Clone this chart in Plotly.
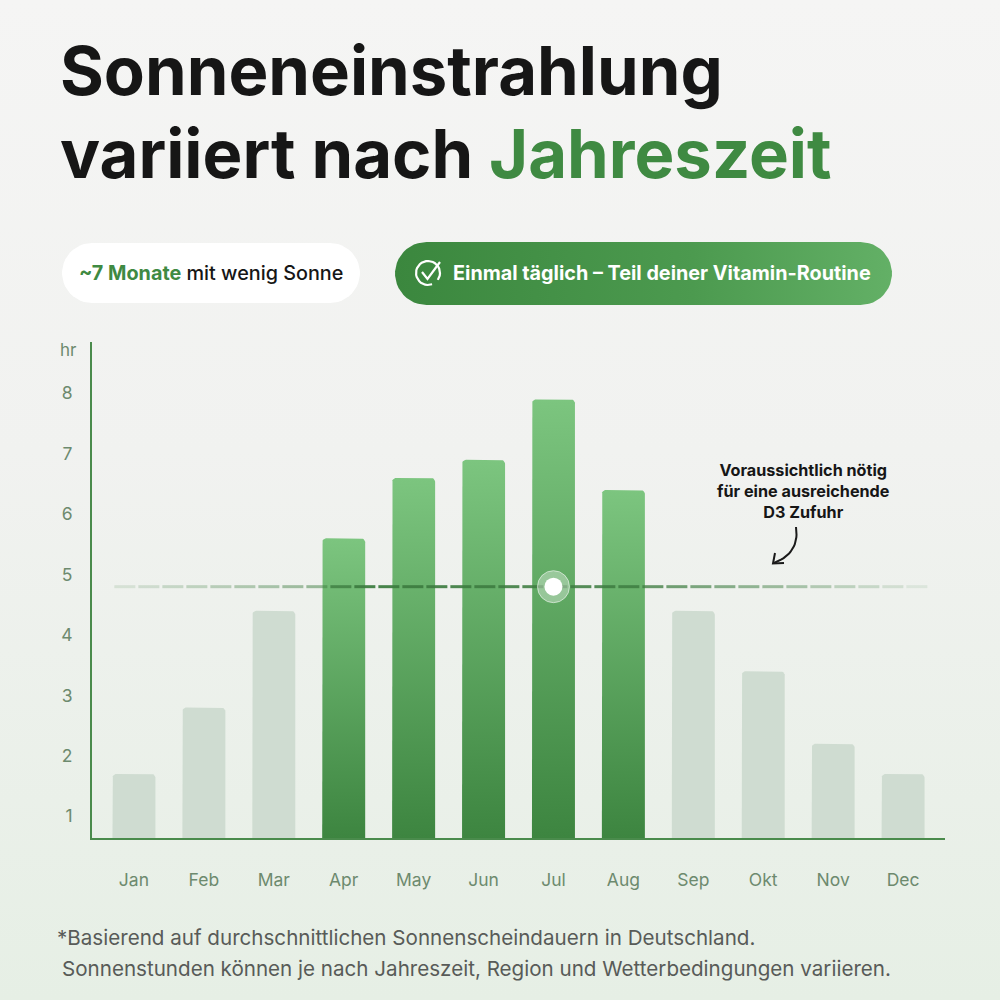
import numpy as np
import plotly.graph_objects as go

MONTHS = ['Jan', 'Feb', 'Mar', 'Apr', 'May', 'Jun', 'Jul', 'Aug', 'Sep', 'Okt', 'Nov', 'Dec']
SUN_HOURS = [1.7, 2.8, 4.4, 5.6, 6.6, 6.9, 7.9, 6.4, 4.4, 3.4, 2.2, 1.7]
HIGH_SUN = [False, False, False, True, True, True, True, True, False, False, False, False]
Y_TICKS = [1, 2, 3, 4, 5, 6, 7, 8]
D3_THRESHOLD = 4.8
MARKER_MONTH = 'Jul'

FONT = 'Inter, Roboto, Arial, sans-serif'
COLOR_TEXT = '#161616'
COLOR_GREEN = '#3F8A42'
COLOR_AXIS = '#4A8B4C'
COLOR_TICK = '#6D8A6E'
COLOR_LOW_BAR = '#CFDCD1'
COLOR_DASH = '61, 124, 64'

Y_MIN, Y_MAX = 0.64, 8.85
X_MIN, X_MAX = -0.6, 11.6
BAR_WIDTH = 0.615
CORNER_PX = 4


def px2paper(y_px):
    return 1 - y_px / 1000


def rounded_top_bar(xc, w, base, top, rx, ry, n=8):
    left, right = xc - w / 2, xc + w / 2
    a1 = np.linspace(np.pi, np.pi / 2, n)
    a2 = np.linspace(np.pi / 2, 0, n)
    xs = [left] + list(left + rx + rx * np.cos(a1)) + list(right - rx + rx * np.cos(a2)) + [right, left]
    ys = [base] + list(top - ry + ry * np.sin(a1)) + list(top - ry + ry * np.sin(a2)) + [base, base]
    return xs, ys


def pill(x0, x1, y0, y1, n=24):
    # pixel coords, y pointing down
    r = (y1 - y0) / 2
    cy = (y0 + y1) / 2
    a_r = np.linspace(-np.pi / 2, np.pi / 2, n)
    a_l = np.linspace(np.pi / 2, 3 * np.pi / 2, n)
    xs = list(x1 - r + r * np.cos(a_r)) + list(x0 + r + r * np.cos(a_l))
    ys = list(cy + r * np.sin(a_r)) + list(cy + r * np.sin(a_l))
    return xs + [xs[0]], ys + [ys[0]]


fig = go.Figure()

# ---- background layer (pixel coordinates on hidden axes) ----
fig.add_trace(go.Scatter(
    x=[0, 1000, 1000, 0, 0], y=[0, 0, 1000, 1000, 0],
    mode='lines', line_width=0, fill='toself',
    fillgradient=dict(type='vertical',
                      colorscale=[[0, '#E6EFE5'], [0.55, '#F1F2F0'], [1, '#F5F5F4']]),
    hoverinfo='skip', showlegend=False, xaxis='x', yaxis='y'))

px_, py_ = pill(62, 360, 243, 303)
fig.add_trace(go.Scatter(x=px_, y=py_, mode='lines', line_width=0, fill='toself',
                         fillcolor='#FFFFFF', hoverinfo='skip', showlegend=False,
                         xaxis='x', yaxis='y'))

px_, py_ = pill(395, 892, 242, 305)
fig.add_trace(go.Scatter(x=px_, y=py_, mode='lines', line_width=0, fill='toself',
                         fillgradient=dict(type='horizontal',
                                           colorscale=[[0, '#3B873E'], [0.6, '#4C9A4F'], [1, '#63B066']]),
                         hoverinfo='skip', showlegend=False, xaxis='x', yaxis='y'))

# check icon
ang = np.linspace(np.radians(-35), np.radians(290), 30)
fig.add_trace(go.Scatter(x=428 + 12 * np.cos(ang), y=273 - 12 * np.sin(ang), mode='lines',
                         line=dict(color='white', width=2.2), hoverinfo='skip', showlegend=False,
                         xaxis='x', yaxis='y'))
fig.add_trace(go.Scatter(x=[422, 427.5, 440], y=[272, 279, 262], mode='lines',
                         line=dict(color='white', width=2.2), hoverinfo='skip', showlegend=False,
                         xaxis='x', yaxis='y'))

# curved arrow for annotation
t = np.linspace(0, 1, 20)
p0, p1, p2 = np.array([796, 527]), np.array([800, 553]), np.array([774, 563])
curve = (1 - t)[:, None] ** 2 * p0 + 2 * ((1 - t) * t)[:, None] * p1 + (t ** 2)[:, None] * p2
fig.add_trace(go.Scatter(x=curve[:, 0], y=curve[:, 1], mode='lines',
                         line=dict(color='#1A1A1A', width=2), hoverinfo='skip', showlegend=False,
                         xaxis='x', yaxis='y'))
fig.add_trace(go.Scatter(x=[775, 773, 784], y=[553, 563.5, 563], mode='lines',
                         line=dict(color='#1A1A1A', width=2), hoverinfo='skip', showlegend=False,
                         xaxis='x', yaxis='y'))

# ---- bars ----
x_idx = list(range(len(MONTHS)))
rx = CORNER_PX / (853 / (X_MAX - X_MIN))
ry = CORNER_PX / (496 / (Y_MAX - Y_MIN))
for i, (val, high) in enumerate(zip(SUN_HOURS, HIGH_SUN)):
    bx, by = rounded_top_bar(x_idx[i], BAR_WIDTH, Y_MIN, val, rx, ry)
    if high:
        fig.add_trace(go.Scatter(
            x=bx, y=by, mode='lines', line_width=0, fill='toself',
            fillgradient=dict(type='vertical', colorscale=[[0, '#3D8540'], [1, '#7CC57F']]),
            name=MONTHS[i], hovertemplate=f'{MONTHS[i]}: {val} hr<extra></extra>',
            showlegend=False, xaxis='x2', yaxis='y2'))
    else:
        fig.add_trace(go.Scatter(
            x=bx, y=by, mode='lines', line_width=0, fill='toself', fillcolor=COLOR_LOW_BAR,
            name=MONTHS[i], hovertemplate=f'{MONTHS[i]}: {val} hr<extra></extra>',
            showlegend=False, xaxis='x2', yaxis='y2'))

# ---- dashed threshold line, fading towards the ends ----
dash_x = np.arange(-0.13, 11.47, 24 / (853 / (X_MAX - X_MIN)))
dash_alpha = np.interp(dash_x, [-0.13, 2.7, 3.1, 7.0, 11.46], [0.14, 0.5, 0.95, 0.85, 0.05])
fig.add_trace(go.Scatter(
    x=dash_x, y=[D3_THRESHOLD] * len(dash_x), mode='markers',
    marker=dict(symbol='line-ew', size=15,
                line=dict(width=3, color=[f'rgba({COLOR_DASH},{a:.2f})' for a in dash_alpha])),
    hoverinfo='skip', showlegend=False, xaxis='x2', yaxis='y2'))

mx = MONTHS.index(MARKER_MONTH)
fig.add_trace(go.Scatter(
    x=[mx], y=[D3_THRESHOLD], mode='markers',
    marker=dict(size=32, color='rgba(255,255,255,0.35)', line=dict(width=1, color='rgba(255,255,255,0.55)')),
    hoverinfo='skip', showlegend=False, xaxis='x2', yaxis='y2'))
fig.add_trace(go.Scatter(
    x=[mx], y=[D3_THRESHOLD], mode='markers',
    marker=dict(size=18, color='white'),
    hoverinfo='skip', showlegend=False, xaxis='x2', yaxis='y2'))

# ---- text ----
annotations = [
    dict(text='Sonneneinstrahlung', x=0.058, y=px2paper(70), font=dict(size=67, color=COLOR_TEXT, weight=700)),
    dict(text=f'variiert nach <span style="color:{COLOR_GREEN}">Jahreszeit</span>', x=0.058, y=px2paper(153),
         font=dict(size=67, color=COLOR_TEXT, weight=700)),
    dict(text=f'<span style="color:{COLOR_GREEN}"><b>~7 Monate</b></span> mit wenig Sonne', x=0.211, y=px2paper(273),
         xanchor='center', font=dict(size=19.8, color=COLOR_TEXT, weight=500)),
    dict(text='Einmal täglich – Teil deiner Vitamin-Routine', x=0.451, y=px2paper(273),
         font=dict(size=19.8, color='white', weight=700)),
    dict(text='Voraussichtlich nötig<br>für eine ausreichende<br>D3 Zufuhr', x=0.803, y=px2paper(491),
         xanchor='center', align='center', font=dict(size=16.2, color=COLOR_TEXT, weight=700)),
    dict(text='hr', x=0.068, y=px2paper(350), xanchor='center', font=dict(size=17, color=COLOR_TICK)),
    dict(text='*Basierend auf durchschnittlichen Sonnenscheindauern in Deutschland.', x=0.055, y=px2paper(937),
         font=dict(size=20.6, color='#585B58')),
    dict(text='Sonnenstunden können je nach Jahreszeit, Region und Wetterbedingungen variieren.', x=0.06,
         y=px2paper(968), font=dict(size=20.6, color='#585B58')),
]
for a in annotations:
    a.setdefault('xanchor', 'left')
    a.update(xref='paper', yref='paper', yanchor='middle', showarrow=False)
    a['font'].setdefault('family', FONT)

fig.update_layout(
    width=1000, height=1000,
    margin=dict(l=0, r=0, t=0, b=0),
    paper_bgcolor='#F2F3F1', plot_bgcolor='rgba(0,0,0,0)',
    font=dict(family=FONT),
    annotations=annotations,
    xaxis=dict(domain=[0, 1], range=[0, 1000], visible=False, fixedrange=True),
    yaxis=dict(domain=[0, 1], range=[1000, 0], visible=False, fixedrange=True),
    xaxis2=dict(domain=[0.092, 0.945], range=[X_MIN, X_MAX], anchor='y2',
                tickvals=x_idx, ticktext=MONTHS, showgrid=False, zeroline=False,
                showline=True, linecolor=COLOR_AXIS, linewidth=2, ticks='',
                ticklabelstandoff=25, tickfont=dict(size=17.5, color=COLOR_TICK, family=FONT)),
    yaxis2=dict(domain=[0.162, 0.658], range=[Y_MIN, Y_MAX], anchor='x2',
                tickvals=Y_TICKS, showgrid=False, zeroline=False,
                showline=True, linecolor=COLOR_AXIS, linewidth=2, ticks='',
                ticklabelstandoff=14, tickfont=dict(size=17.5, color=COLOR_TICK, family=FONT)),
    hovermode='closest',
)

fig.write_html('out.html', config={'displayModeBar': False},
               post_script="document.body.style.margin='0';")
